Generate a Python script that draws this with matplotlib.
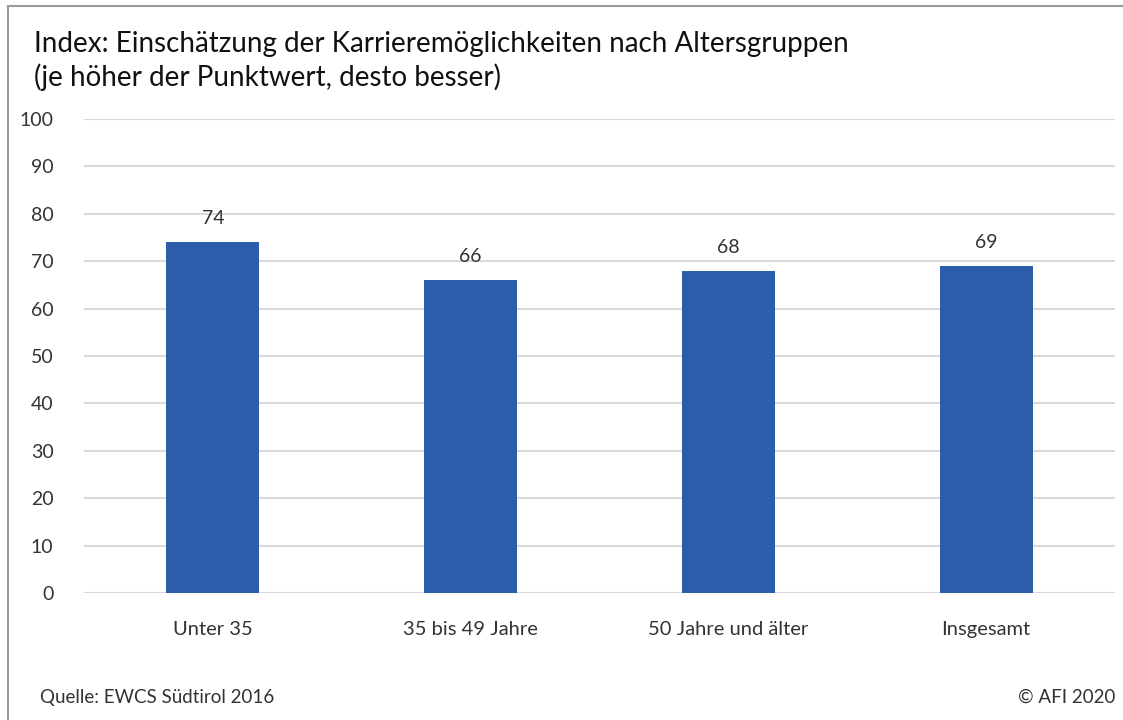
import matplotlib
matplotlib.use("Agg")
import matplotlib.pyplot as plt
from matplotlib.patches import Rectangle

categories = ["Unter 35", "35 bis 49 Jahre", "50 Jahre und älter", "Insgesamt"]
values = [74, 66, 68, 69]
yticks = [0, 10, 20, 30, 40, 50, 60, 70, 80, 90, 100]

plt.rcParams['font.family'] = ['Lato', 'DejaVu Sans']

fig = plt.figure(figsize=(11.23, 7.2), dpi=100)
fig.patch.set_facecolor("white")

# outer frame (only left and top edge visible)
fig.add_artist(Rectangle((8 / 1123, -0.05), 1.2, (720 - 6) / 720 + 0.05,
                         transform=fig.transFigure, fill=False,
                         edgecolor="#9a9a9a", linewidth=1.5))

ax = fig.add_axes([84 / 1123, 1 - 593 / 720, (1115 - 84) / 1123, (593 - 119) / 720])
x = range(len(categories))
bars = ax.bar(x, values, width=0.36, color="#2B5DAB", zorder=3)
for b, v in zip(bars, values):
    ax.text(b.get_x() + b.get_width() / 2, v + 3.2, str(v), ha="center", va="bottom",
            fontsize=14, color="#333333")

ax.set_xlim(-0.5, len(categories) - 0.5)
ax.set_ylim(0, 100)
ax.set_yticks(yticks)
ax.set_yticklabels([str(t) for t in yticks], fontsize=14, color="#333333")
ax.set_xticks(list(x))
ax.set_xticklabels(categories, fontsize=14.5, color="#333333")
ax.tick_params(axis="both", length=0)
ax.tick_params(axis="y", pad=22)
ax.tick_params(axis="x", pad=20)
ax.grid(axis="y", color="#d9d9d9", linewidth=1.5, zorder=0)
for s in ax.spines.values():
    s.set_visible(False)

fig.text(34 / 1123, 1 - 44 / 720, "Index: Einschätzung der Karrieremöglichkeiten nach Altersgruppen",
         fontsize=20, color="#111111", va="center", ha="left")
fig.text(34 / 1123, 1 - 77 / 720, "(je höher der Punktwert, desto besser)",
         fontsize=20, color="#111111", va="center", ha="left")
fig.text(40 / 1123, 1 - 697 / 720, "Quelle: EWCS Südtirol 2016", fontsize=13.5,
         color="#333333", va="center", ha="left")
fig.text(1115 / 1123, 1 - 697 / 720, "© AFI 2020", fontsize=13.5,
         color="#333333", va="center", ha="right")

fig.savefig("out.png", dpi=100)
